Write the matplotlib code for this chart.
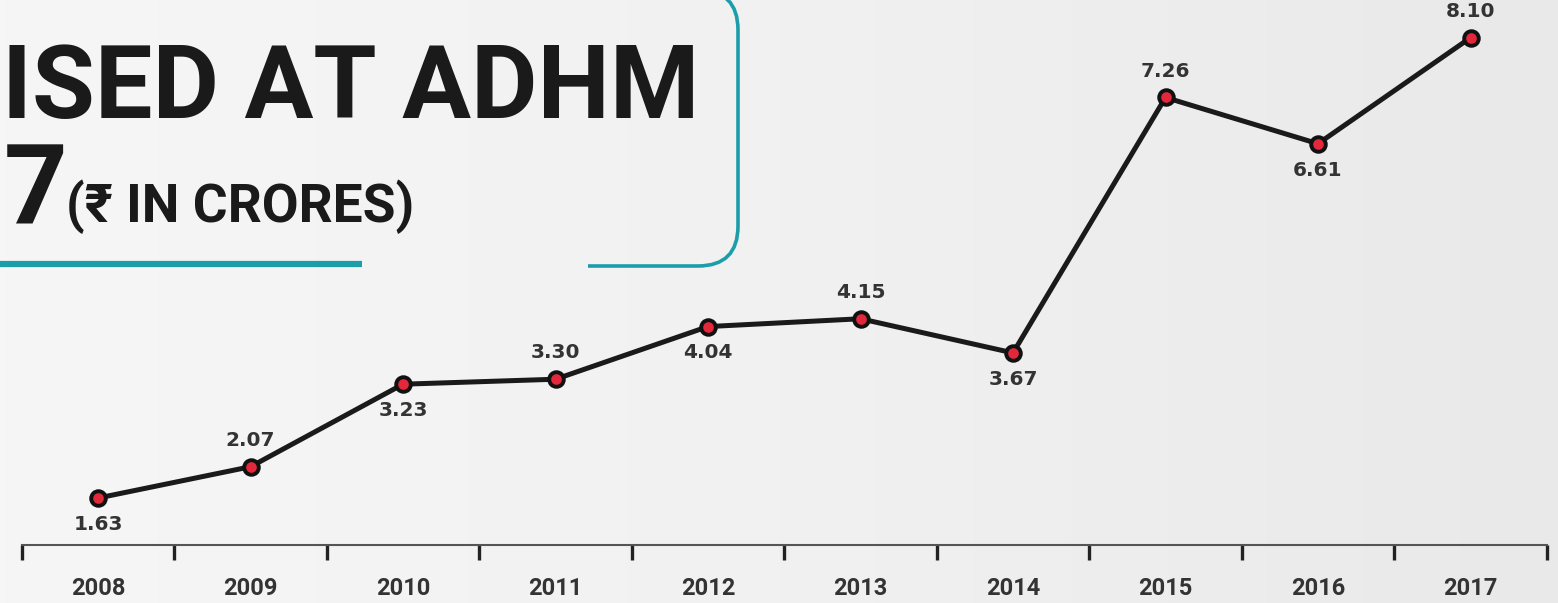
import numpy as np
import matplotlib
matplotlib.use("Agg")
import matplotlib.pyplot as plt
from matplotlib.path import Path
from matplotlib.patches import PathPatch
from matplotlib.colors import LinearSegmentedColormap

years = ["2008", "2009", "2010", "2011", "2012", "2013", "2014", "2015", "2016", "2017"]
values = [1.63, 2.07, 3.23, 3.30, 4.04, 4.15, 3.67, 7.26, 6.61, 8.10]
label_above = [False, True, False, True, False, True, False, True, False, True]
value_labels = ["1.63", "2.07", "3.23", "3.30", "4.04", "4.15", "3.67", "7.26", "6.61", "8.10"]
title_line1 = "ISED AT ADHM"
title_num = "7"
title_unit = "(₹ IN CRORES)"

W, H = 1558, 603
fig = plt.figure(figsize=(W / 100, H / 100), dpi=100)

# background gradient
bg = fig.add_axes([0, 0, 1, 1], zorder=0)
grad = np.linspace(0, 1, 256)[None, :]
cmap = LinearSegmentedColormap.from_list("bg", ["#f6f6f6", "#f1f1f1", "#e9e9e9"])
bg.imshow(grad, aspect="auto", cmap=cmap, extent=[0, W, H, 0])
bg.set_xlim(0, W)
bg.set_ylim(H, 0)
bg.axis("off")

# title box (pixel coordinates, y down)
teal = "#1b9eaa"
verts = [(588, 266), (698, 266), (738, 266), (738, 226), (738, 30), (738, -10), (698, -10), (-20, -10)]
codes = [Path.MOVETO, Path.LINETO, Path.CURVE3, Path.CURVE3, Path.LINETO, Path.CURVE3, Path.CURVE3, Path.LINETO]
bg.add_patch(PathPatch(Path(verts, codes), fill=False, edgecolor=teal, lw=2.6, capstyle="butt"))
bg.plot([0, 362], [264, 264], color=teal, lw=4.5, solid_capstyle="butt")

title_font = ["Roboto", "DejaVu Sans"]
renderer = fig.canvas.get_renderer()


def fitted_text(x, y, s, size, target_w, **kw):
    t = bg.text(x, y, s, ha="left", va="baseline", fontsize=size, fontweight="bold",
                family=title_font, color="#1a1a1a", **kw)
    w = t.get_window_extent(renderer).width
    t.set_fontsize(size * target_w / w)
    return t


fitted_text(2, 118, title_line1, 78, 698)
bg.text(4, 225, title_num, ha="left", va="baseline", fontsize=80,
        fontweight="bold", family=title_font, color="#1a1a1a")
fitted_text(66, 222, title_unit, 42, 349)

# main chart
x = np.arange(len(years))
ax_bottom = (H - 545) / H
ax = fig.add_axes([0, ax_bottom, 1, 1 - ax_bottom], zorder=2)
ax.patch.set_alpha(0)
spacing = 152.5
x0_px = 98
ax.set_xlim(-x0_px / spacing, (W - x0_px) / spacing)
ax.set_ylim(0.97, 8.63)

ax.plot(x, values, color="#1a1a1a", lw=3.6, solid_capstyle="round", zorder=3,
        marker="o", markersize=10.5, markerfacecolor="#e3283c",
        markeredgecolor="#111111", markeredgewidth=2.8)

for xi, v, lab, up in zip(x, values, value_labels, label_above):
    ax.annotate(lab, (xi, v), xytext=(0, 19 if up else -19), textcoords="offset points",
                ha="center", va="center", fontsize=14.5, fontweight="bold",
                family="DejaVu Sans", color="#333333")

for s in ["top", "left", "right"]:
    ax.spines[s].set_visible(False)
ax.spines["bottom"].set_bounds(-0.5, len(years) - 0.5)
ax.spines["bottom"].set_color("#555555")
ax.spines["bottom"].set_linewidth(1.5)
ax.set_yticks([])
ax.set_xticks(np.arange(len(years) + 1) - 0.5)
ax.set_xticklabels([])
ax.tick_params(axis="x", which="major", direction="out", length=11, width=2.4, color="#222222")
ax.set_xticks(x, minor=True)
ax.set_xticklabels(years, minor=True, fontsize=17, fontweight="bold",
                   family=["Roboto", "DejaVu Sans"], color="#333333")
ax.tick_params(axis="x", which="minor", length=0, pad=23)

fig.savefig("out.png", dpi=100)
